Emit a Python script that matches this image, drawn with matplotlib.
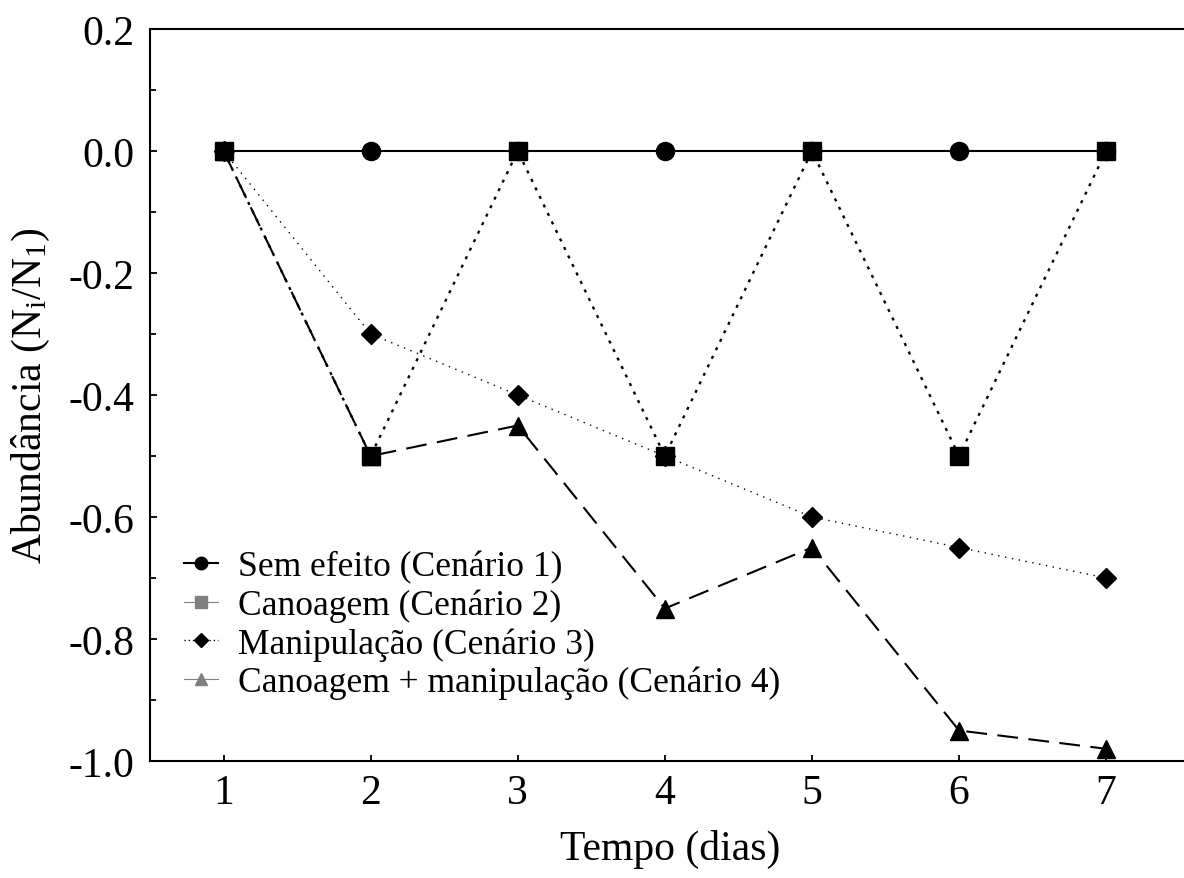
import matplotlib
matplotlib.use("Agg")
import matplotlib.pyplot as plt
from matplotlib.lines import Line2D
from matplotlib.ticker import MultipleLocator

plt.rcParams['font.family'] = ['Liberation Serif', 'DejaVu Serif']
plt.rcParams['mathtext.fontset'] = 'custom'
plt.rcParams['mathtext.rm'] = 'Liberation Serif'
plt.rcParams['mathtext.it'] = 'Liberation Serif:italic'

# data
dias = [1, 2, 3, 4, 5, 6, 7]
sem_efeito = [0, 0, 0, 0, 0, 0, 0]
canoagem = [0, -0.5, 0, -0.5, 0, -0.5, 0]
manipulacao = [0, -0.3, -0.4, -0.5, -0.6, -0.65, -0.7]
canoagem_manip = [0, -0.5, -0.45, -0.75, -0.65, -0.95, -0.98]

labels = ['Sem efeito (Cenário 1)', 'Canoagem (Cenário 2)',
          'Manipulação (Cenário 3)', 'Canoagem + manipulação (Cenário 4)']

fig = plt.figure(figsize=(11.84, 8.79), dpi=100)
ax = fig.add_axes([150 / 1184, 117 / 879, 1040 / 1184, 732 / 879])

ax.plot(dias, sem_efeito, '-', color='black', lw=1.5, marker='o', ms=13, zorder=3)
ax.plot(dias, manipulacao, color='black', lw=1.0, linestyle=(0, (1, 4)),
        marker='D', ms=9.8, zorder=4)
ax.plot(dias, canoagem_manip, color='black', lw=1.5, linestyle=(0, (10, 5)),
        marker='^', ms=13, zorder=5)
ax.plot(dias, canoagem, color='black', lw=1.7, linestyle=(0, (1.3, 2.7)),
        marker='s', ms=13, zorder=6)

ax.set_xlim(0.5, 7.57)
ax.set_ylim(-1.0, 0.2)
ax.set_xticks(dias)
ax.yaxis.set_major_locator(MultipleLocator(0.2))
ax.yaxis.set_minor_locator(MultipleLocator(0.1))
ax.set_yticklabels(['%.1f' % v for v in ax.get_yticks()])

ax.spines['right'].set_visible(False)
for s in ['left', 'bottom', 'top']:
    ax.spines[s].set_linewidth(1.5)

ax.tick_params(axis='both', which='both', direction='in', labelsize=30, width=1.3)
ax.tick_params(axis='y', which='major', length=5, pad=11)
ax.tick_params(axis='y', which='minor', length=4)
ax.tick_params(axis='x', which='major', length=4, pad=9)

ax.set_xlabel('Tempo (dias)', fontsize=30, labelpad=12)
ax.set_ylabel(r'Abundância (N$_\mathrm{i}$/N$_\mathrm{1}$)', fontsize=30, labelpad=12)

handles = [
    Line2D([], [], color='black', lw=1.5, marker='o', ms=9),
    Line2D([], [], color='gray', lw=0.8, marker='s', ms=9),
    Line2D([], [], color='black', lw=1.0, linestyle=(0, (1, 2)), marker='D', ms=7),
    Line2D([], [], color='gray', lw=0.8, marker='^', ms=9),
]
ax.legend(handles, labels, loc='center left', bbox_to_anchor=(0.033, 0.186),
          frameon=False, fontsize=25.6, handlelength=0.95, handletextpad=0.55,
          labelspacing=0.14, borderpad=0, borderaxespad=0)

fig.savefig('out.png', dpi=100)
